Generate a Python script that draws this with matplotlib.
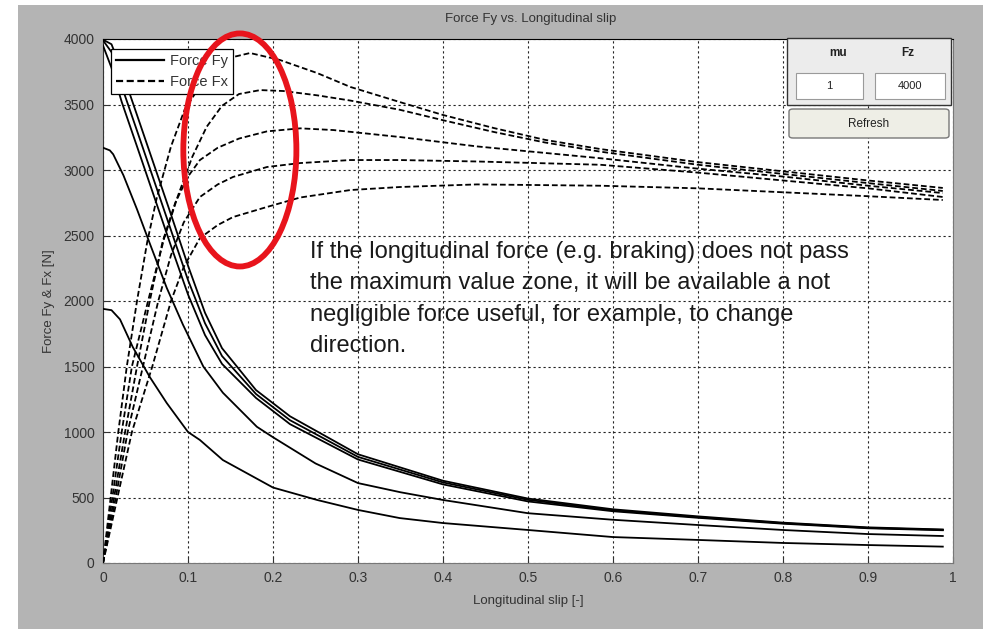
import matplotlib
matplotlib.use("Agg")
import matplotlib.pyplot as plt
from matplotlib.patches import Rectangle, Ellipse, FancyBboxPatch
from matplotlib.lines import Line2D

# Longitudinal force Fx for five slip angles (dashed)
fx1_s = [0, 0.009, 0.018, 0.028, 0.04, 0.052, 0.063, 0.08, 0.096, 0.12, 0.145, 0.173, 0.208, 0.252, 0.291, 0.349, 0.4, 0.46, 0.52, 0.585, 0.7, 0.8, 0.9, 0.988]
fx1_f = [0, 500, 1000, 1500, 2000, 2450, 2780, 3180, 3460, 3700, 3850, 3893, 3840, 3740, 3634, 3519, 3420, 3320, 3230, 3160, 3060, 2990, 2920, 2863]
fx2_s = [0, 0.011, 0.022, 0.034, 0.053, 0.072, 0.088, 0.105, 0.122, 0.14, 0.16, 0.185, 0.212, 0.252, 0.291, 0.349, 0.4, 0.46, 0.52, 0.585, 0.7, 0.8, 0.9, 0.988]
fx2_f = [0, 500, 1000, 1500, 2000, 2480, 2800, 3100, 3330, 3490, 3580, 3610, 3603, 3570, 3530, 3460, 3380, 3290, 3210, 3140, 3040, 2970, 2900, 2840]
fx3_s = [0, 0.013, 0.026, 0.040, 0.055, 0.07, 0.085, 0.1, 0.114, 0.135, 0.16, 0.193, 0.232, 0.271, 0.349, 0.44, 0.585, 0.7, 0.8, 0.9, 0.988]
fx3_f = [0, 500, 1000, 1500, 2000, 2450, 2750, 2950, 3076, 3170, 3240, 3295, 3318, 3305, 3252, 3180, 3090, 3010, 2950, 2880, 2824]
fx4_s = [0, 0.015, 0.029, 0.047, 0.065, 0.08, 0.095, 0.114, 0.135, 0.153, 0.193, 0.232, 0.291, 0.349, 0.44, 0.585, 0.7, 0.8, 0.9, 0.988]
fx4_f = [0, 500, 1000, 1500, 2000, 2350, 2600, 2794, 2890, 2947, 3023, 3053, 3076, 3076, 3065, 3040, 2980, 2920, 2860, 2794]
fx5_s = [0, 0.017, 0.034, 0.058, 0.08, 0.095, 0.114, 0.135, 0.153, 0.193, 0.232, 0.291, 0.349, 0.44, 0.585, 0.7, 0.8, 0.9, 0.988]
fx5_f = [0, 500, 1000, 1500, 2000, 2260, 2480, 2580, 2641, 2718, 2790, 2847, 2870, 2890, 2880, 2860, 2830, 2800, 2771]

# Lateral force Fy (solid)
fy_s = [0, 0.01, 0.022, 0.04, 0.06, 0.08, 0.1, 0.12, 0.14, 0.18, 0.22, 0.3, 0.4, 0.5, 0.6, 0.7, 0.8, 0.9, 0.988]
fy1_f = [3950, 3780, 3520, 3180, 2800, 2420, 2050, 1740, 1520, 1260, 1060, 790, 600, 470, 395, 345, 300, 265, 250]
fy2_f = [3990, 3900, 3640, 3300, 2920, 2540, 2160, 1830, 1580, 1290, 1090, 810, 615, 482, 402, 350, 304, 268, 253]
fy3_f = [3995, 3960, 3760, 3420, 3040, 2660, 2270, 1910, 1640, 1320, 1120, 830, 628, 492, 410, 356, 308, 272, 256]
fy4_s = [0, 0.008, 0.012, 0.024, 0.04, 0.055, 0.075, 0.094, 0.118, 0.141, 0.181, 0.2, 0.25, 0.3, 0.35, 0.4, 0.5, 0.6, 0.7, 0.8, 0.9, 0.988]
fy4_f = [3170, 3150, 3120, 2960, 2700, 2440, 2100, 1820, 1500, 1300, 1040, 960, 760, 610, 540, 481, 380, 330, 290, 252, 221, 206]
fy5_s = [0, 0.01, 0.02, 0.035, 0.055, 0.075, 0.1, 0.114, 0.141, 0.2, 0.252, 0.3, 0.349, 0.4, 0.5, 0.6, 0.7, 0.8, 0.9, 0.988]
fy5_f = [1940, 1930, 1860, 1649, 1420, 1221, 1000, 939, 786, 576, 481, 405, 343, 305, 252, 198, 176, 153, 137, 125]

fx_curves = [(fx1_s, fx1_f), (fx2_s, fx2_f), (fx3_s, fx3_f), (fx4_s, fx4_f), (fx5_s, fx5_f)]
fy_curves = [(fy_s, fy1_f), (fy_s, fy2_f), (fy_s, fy3_f), (fy4_s, fy4_f), (fy5_s, fy5_f)]

x_ticks = [0, 0.1, 0.2, 0.3, 0.4, 0.5, 0.6, 0.7, 0.8, 0.9, 1]
x_labels = ["0", "0.1", "0.2", "0.3", "0.4", "0.5", "0.6", "0.7", "0.8", "0.9", "1"]
y_ticks = [0, 500, 1000, 1500, 2000, 2500, 3000, 3500, 4000]

note = ("If the longitudinal force (e.g. braking) does not pass\n"
        "the maximum value zone, it will be available a not\n"
        "negligible force useful, for example, to change\n"
        "direction.")

W, H = 983, 629
GRAY = "#b4b4b4"
plt.rcParams["font.family"] = ["Liberation Sans", "DejaVu Sans"]

fig = plt.figure(figsize=(W / 100, H / 100), dpi=100, facecolor="white")


def px(x, y):
    """pixel position (from top-left) -> figure fraction"""
    return x / W, 1 - y / H


# grey window background
fig.add_artist(Rectangle((18 / W, 0), 1, 1 - 5 / H, transform=fig.transFigure,
                         facecolor=GRAY, edgecolor="none", zorder=0))

ax = fig.add_axes([103 / W, 1 - 563 / H, 850 / W, 524 / H])
ax.set_facecolor("white")

for s, f in fy_curves:
    ax.plot(s, f, color="black", lw=1.3, ls="-", zorder=3)
for s, f in fx_curves:
    ax.plot(s, f, color="black", lw=1.3, ls=(0, (3.2, 1.6)), zorder=3)

ax.set_xlim(0, 1)
ax.set_ylim(0, 4000)
ax.set_xticks(x_ticks)
ax.set_xticklabels(x_labels)
ax.set_yticks(y_ticks)
ax.tick_params(direction="in", length=4, labelsize=10, colors="#333333", pad=6)
ax.grid(True, color="#222222", ls=(0, (2, 2.5)), lw=0.8)
for side in ("bottom", "right"):
    ax.spines[side].set_color("#777777")
ax.spines["left"].set_color("#333333")
ax.spines["top"].set_linestyle((0, (2, 1)))
ax.spines["top"].set_color("black")

ax.set_xlabel("Longitudinal slip [-]", fontsize=9.5, color="#333333", labelpad=7)
ax.set_ylabel("Force Fy & Fx [N]", fontsize=9.5, color="#333333", labelpad=6)
fig.text(*px(531, 19), "Force Fy vs. Longitudinal slip", fontsize=9.5,
         color="#333333", ha="center", va="center")

handles = [Line2D([], [], color="black", lw=1.6, ls="-"),
           Line2D([], [], color="black", lw=1.6, ls=(0, (3.2, 1.6)))]
leg = ax.legend(handles, ["Force Fy", "Force Fx"], loc="upper left",
                bbox_to_anchor=((111 - 103) / 850, (563 - 49) / 524),
                borderaxespad=0, fontsize=10.5, handlelength=3.3,
                handletextpad=0.4, labelspacing=0.45, borderpad=0.35,
                fancybox=False, framealpha=1, edgecolor="black")
leg.get_frame().set_linewidth(0.9)
for t in leg.get_texts():
    t.set_color("#333333")
leg.set_zorder(5)

# red highlight around the Fx peaks
ax.add_patch(Ellipse((0.161, 3153), 0.133, 1779, fill=False, edgecolor="#e8141c",
                     lw=4.2, zorder=7, clip_on=False))

ax.text((310 - 103) / 850, (563 - 241) / 524, note,
        transform=ax.transAxes, fontsize=17, color="#1a1a1a", ha="left",
        va="top", linespacing=1.55, zorder=6)

# parameter panel: mu / Fz
x0, y0 = px(787, 105)
x1, y1 = px(951, 38)
fig.add_artist(Rectangle((x0, y0), x1 - x0, y1 - y0, transform=fig.transFigure,
                         facecolor="#ececec", edgecolor="#333333", lw=1.0, zorder=8))
fig.text(*px(838, 53), "mu", fontsize=8.5, fontweight="bold", color="#222222",
         ha="center", va="center", zorder=9)
fig.text(*px(908, 53), "Fz", fontsize=8.5, fontweight="bold", color="#222222",
         ha="center", va="center", zorder=9)
for (bx0, bx1), val in zip([(796, 863), (875, 945)], ["1", "4000"]):
    a0, b0 = px(bx0, 99)
    a1, b1 = px(bx1, 73)
    fig.add_artist(Rectangle((a0, b0), a1 - a0, b1 - b0, transform=fig.transFigure,
                             facecolor="white", edgecolor="#9a9a9a", lw=0.8, zorder=9))
    fig.text(*px((bx0 + bx1) / 2, 86), val, fontsize=8, color="#222222",
             ha="center", va="center", zorder=10)

# Refresh button
a0, b0 = px(789, 138)
a1, b1 = px(949, 109)
fig.add_artist(FancyBboxPatch((a0, b0), a1 - a0, b1 - b0, transform=fig.transFigure,
                              boxstyle="round,pad=0,rounding_size=0.004",
                              facecolor="#eeeee6", edgecolor="#777777", lw=1.0, zorder=9))
fig.text(*px(869, 124), "Refresh", fontsize=8.5, color="#222222",
         ha="center", va="center", zorder=10)

fig.savefig("out.png", dpi=100, facecolor="white")
